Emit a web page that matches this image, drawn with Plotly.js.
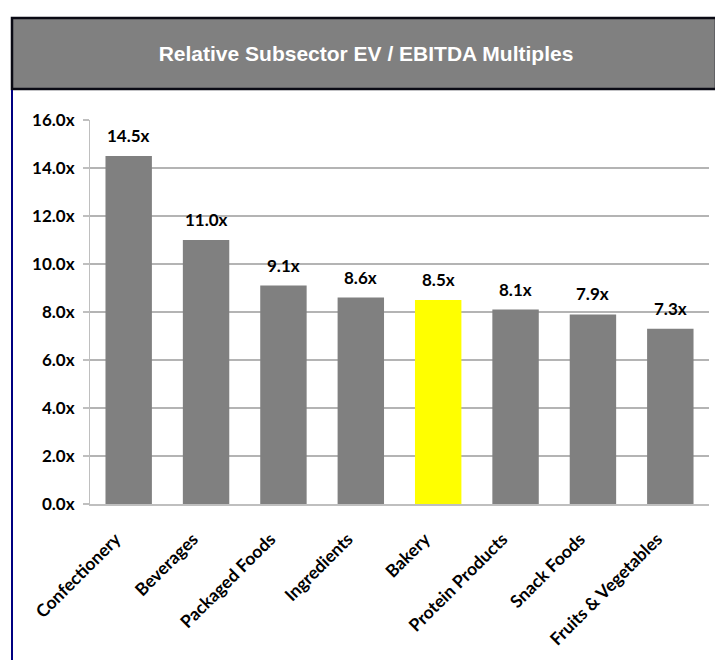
<!DOCTYPE html>
<html>
<head>
<meta charset="utf-8">
<script src="https://cdn.plot.ly/plotly-3.0.1.min.js"></script>
<style>html,body{margin:0;padding:0;background:#fff}#chart{width:715px;height:660px}</style>
</head>
<body>
<div id="chart"></div>
<script>
var categories = ["Confectionery","Beverages","Packaged Foods","Ingredients","Bakery","Protein Products","Snack Foods","Fruits & Vegetables"];
var multiples = [14.5, 11.0, 9.1, 8.6, 8.5, 8.1, 7.9, 7.3];
var highlight = "Bakery";
var yTicks = [0, 2, 4, 6, 8, 10, 12, 14, 16];
var yTickLabels = ["0.0x","2.0x","4.0x","6.0x","8.0x","10.0x","12.0x","14.0x","16.0x"];
var chartTitle = "Relative Subsector EV / EBITDA Multiples";

var W = 715, H = 660;
function px(x){ return x / W; }
function py(y){ return 1 - y / H; }

var colors = categories.map(function(c){ return c === highlight ? "#FFFF00" : "#808080"; });
var fam = "Lato, 'Open Sans', sans-serif";
var tickFont = {family: fam, size: 17, color: "#000000", weight: 700};
var catFont = {family: fam, size: 17.5, color: "#000000", weight: 700};
var dataFont = {family: fam, size: 17, color: "#000000", weight: 700};

var trace = {
  type: "bar",
  x: categories,
  y: multiples,
  marker: {color: colors, line: {width: 0}},
  hoverinfo: "x+y"
};

var annotations = categories.map(function(c, i){
  return {
    x: c, y: multiples[i], xref: "x", yref: "y",
    text: multiples[i].toFixed(1) + "x",
    showarrow: false, yanchor: "bottom", yshift: 8,
    font: dataFont
  };
});

var layout = {
  width: W, height: H,
  margin: {l: 0, r: 0, t: 0, b: 0, pad: 0},
  paper_bgcolor: "#ffffff",
  plot_bgcolor: "#ffffff",
  showlegend: false,
  bargap: 0.4,
  title: {
    text: chartTitle,
    x: 366 / W, xanchor: "center",
    y: py(54), yanchor: "middle",
    font: {family: "'Liberation Sans', Arial, sans-serif", size: 21, color: "#ffffff", weight: 700}
  },
  xaxis: {
    domain: [px(90), px(709)],
    tickangle: -45,
    tickfont: catFont,
    ticklabelstandoff: 16,
    ticklabelshift: -13,
    showgrid: false,
    showline: true, linecolor: "#bfbfbf", linewidth: 2,
    ticks: "",
    fixedrange: true
  },
  yaxis: {
    domain: [py(504), py(120)],
    range: [0, 16],
    tickmode: "array",
    tickvals: yTicks,
    ticktext: yTickLabels,
    tickfont: tickFont,
    ticklabelstandoff: 5,
    showgrid: true, gridcolor: "#b4b4b4", gridwidth: 1.5,
    showline: true, linecolor: "#bfbfbf", linewidth: 1,
    ticks: "outside", ticklen: 6, tickcolor: "#bfbfbf", tickwidth: 1.5,
    zeroline: false,
    fixedrange: true
  },
  annotations: annotations,
  shapes: [
    {type: "rect", xref: "paper", yref: "paper", x0: px(12), x1: px(716), y0: py(89), y1: py(18),
     fillcolor: "#808080", line: {color: "#0a0a14", width: 2.5}, layer: "below"},
    {type: "line", xref: "paper", yref: "paper", x0: px(12), x1: px(12), y0: py(90), y1: 0,
     line: {color: "#000080", width: 2}}
  ]
};

Plotly.newPlot("chart", [trace], layout, {displayModeBar: false, staticPlot: true});
</script>
</body>
</html>
